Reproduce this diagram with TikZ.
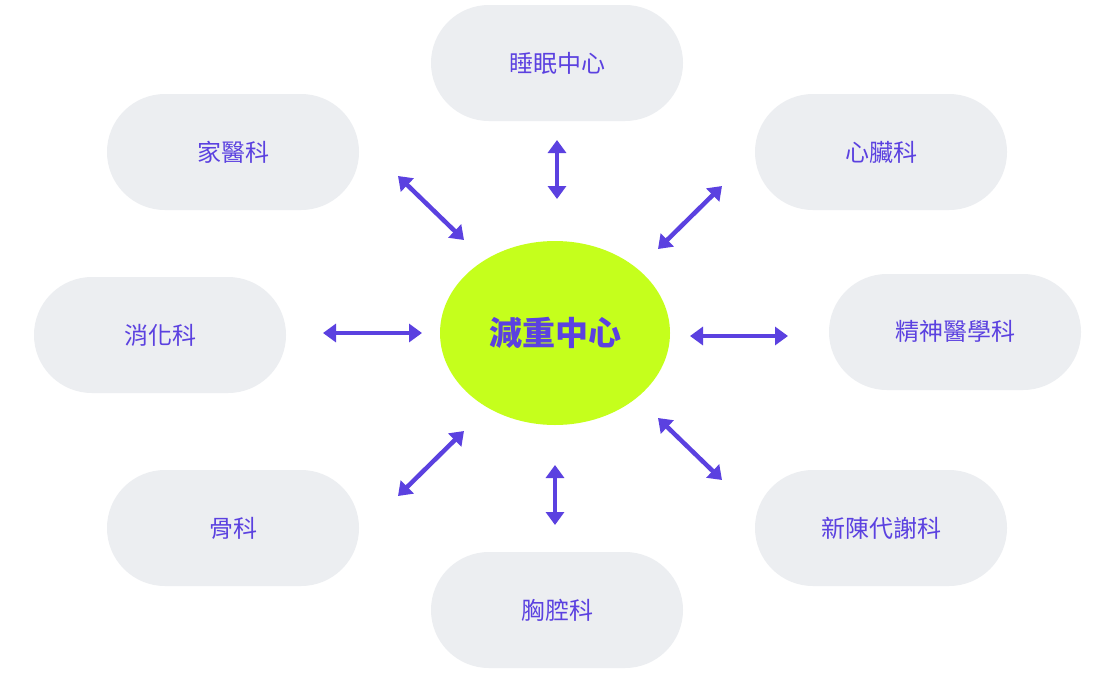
\documentclass[tikz,border=0pt]{standalone}
\usepackage{fontspec}
\setmainfont{Noto Sans CJK TC}
\usetikzlibrary{arrows.meta,shapes.geometric}
\definecolor{pill}{HTML}{ECEEF1}
\definecolor{lime}{HTML}{C5FF1C}
\definecolor{purp}{HTML}{5B41E0}
\tikzset{
  dept/.style={fill=pill,rounded corners=58pt,minimum width=252pt,minimum height=116pt,text=purp,font=\fontsize{24pt}{28pt}\selectfont},
  link/.style={draw=purp,line width=4.5pt,{Triangle[length=13pt,width=18pt]}-{Triangle[length=13pt,width=18pt]}}
}
\begin{document}
\begin{tikzpicture}[x=1pt,y=-1pt]
\useasboundingbox[fill=white] (0,0) rectangle (1097,683);
\node[dept] (sleep) at (557,63) {睡眠中心};
\node[dept] (fam) at (233,152) {家醫科};
\node[dept] (heart) at (881,152) {心臟科};
\node[dept] (dig) at (160,335) {消化科};
\node[dept] (psy) at (955,332) {精神醫學科};
\node[dept] (bone) at (233,528) {骨科};
\node[dept] (meta) at (881,528) {新陳代謝科};
\node[dept] (chest) at (557,610) {胸腔科};
\node[ellipse,fill=lime,minimum width=230pt,minimum height=184pt,text=purp,font=\bfseries\fontsize{33pt}{38pt}\selectfont] (c) at (555,333) {減重中心};
\coordinate (a1) at (557,140); \coordinate (b1) at (557,199);
\coordinate (a2) at (398,176); \coordinate (b2) at (464,240);
\coordinate (a3) at (722,186); \coordinate (b3) at (658,249);
\coordinate (a4) at (323,333); \coordinate (b4) at (422,333);
\coordinate (a5) at (788,336); \coordinate (b5) at (690,336);
\coordinate (a6) at (398,496); \coordinate (b6) at (464,431);
\coordinate (a7) at (555,525); \coordinate (b7) at (555,465);
\coordinate (a8) at (722,480); \coordinate (b8) at (658,418);
\foreach \i in {1,...,8} \draw[link] (a\i) -- (b\i);
\end{tikzpicture}
\end{document}
